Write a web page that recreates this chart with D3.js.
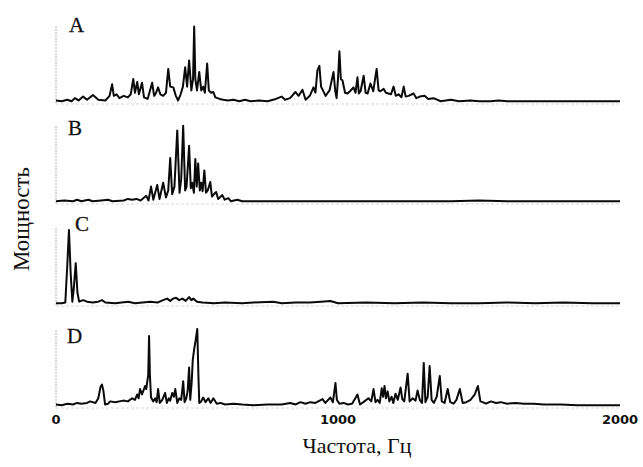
<!DOCTYPE html>
<html>
<head>
<meta charset="utf-8">
<script src="https://cdn.jsdelivr.net/npm/d3@7"></script>
<style>
  html, body { margin: 0; padding: 0; background: #fff; }
  svg { display: block; }
</style>
</head>
<body>
<div id="chart"></div>
<script>
// spectra: [frequency Hz, relative power 0..100]
var spectrumA = [[0,2],[20,1],[40,3],[55,1],[67,5],[80,2],[96,7],[110,3],[131,9],[150,3],[175,2],[190,8],[199,23],[205,8],[215,10],[225,5],[240,8],[255,6],[265,10],[274,30],[280,12],[288,26],[294,10],[305,25],[312,6],[325,4],[341,25],[348,8],[355,12],[362,19],[370,10],[380,8],[390,12],[398,43],[405,20],[416,19],[425,8],[433,2],[442,10],[450,20],[458,45],[465,20],[472,54],[480,15],[486,30],[490,98],[494,30],[500,15],[508,39],[515,15],[522,20],[528,12],[536,50],[542,15],[550,12],[558,13],[565,6],[580,4],[593,3],[610,2],[630,3],[650,1],[670,3],[690,1],[720,2],[750,1],[780,4],[800,7],[812,3],[830,5],[849,13],[860,8],[874,16],[885,3],[900,8],[913,19],[920,12],[927,41],[934,47],[940,20],[956,8],[970,15],[984,39],[990,15],[995,5],[1000,30],[1005,66],[1010,30],[1016,28],[1025,12],[1034,11],[1045,15],[1055,19],[1062,12],[1069,32],[1074,11],[1080,14],[1091,34],[1098,12],[1105,11],[1115,24],[1125,14],[1137,43],[1144,15],[1150,14],[1162,17],[1170,12],[1179,11],[1188,10],[1197,20],[1205,8],[1215,10],[1225,6],[1233,20],[1240,7],[1250,8],[1268,11],[1278,5],[1290,7],[1307,8],[1320,4],[1339,5],[1364,1],[1400,3],[1430,1],[1470,2],[1500,1],[1540,1],[1570,2],[1600,1],[1650,1],[1700,1],[1750,1],[1800,1],[1850,1],[1900,1],[1950,1],[2000,1]];

var spectrumB = [[0,1],[30,2],[60,1],[75,3],[90,1],[115,3],[130,1],[160,2],[185,3],[200,1],[240,2],[255,4],[270,3],[285,4],[300,2],[320,8],[328,2],[337,20],[345,3],[359,22],[367,4],[380,25],[390,6],[398,15],[405,57],[412,10],[420,20],[430,93],[438,12],[444,30],[451,99],[458,15],[463,20],[472,73],[478,18],[483,25],[489,12],[494,56],[499,20],[504,50],[510,15],[515,25],[520,14],[526,41],[532,12],[538,15],[547,26],[553,7],[560,10],[568,13],[575,4],[590,9],[598,3],[611,5],[620,1],[643,3],[660,1],[700,1],[800,1],[900,1],[1000,1],[1100,1],[1200,1],[1300,1],[1400,1],[1500,2],[1600,1],[1700,1],[1800,1],[1900,1],[2000,1]];

var spectrumC = [[0,1],[20,1],[33,2],[40,50],[46,96],[52,40],[58,3],[63,20],[70,53],[76,15],[82,3],[96,5],[110,3],[130,2],[150,3],[163,5],[175,2],[210,1],[256,3],[280,1],[334,3],[360,2],[380,5],[394,7],[405,4],[415,7],[426,8],[437,5],[448,7],[460,4],[472,9],[480,5],[487,7],[500,3],[520,2],[560,1],[600,2],[660,1],[700,2],[771,3],[800,1],[850,2],[900,2],[940,3],[973,4],[1000,1],[1100,2],[1200,1],[1300,2],[1400,1],[1500,1],[1600,2],[1700,1],[1800,2],[1900,1],[2000,1]];

var spectrumD = [[0,2],[20,1],[40,3],[60,2],[75,4],[90,3],[110,4],[121,6],[140,4],[150,10],[158,25],[163,28],[168,20],[174,2],[185,3],[192,6],[210,5],[238,7],[255,6],[270,10],[280,8],[288,15],[293,10],[298,22],[305,15],[316,26],[320,22],[323,30],[327,40],[330,91],[333,40],[337,11],[345,6],[352,10],[357,5],[362,22],[368,4],[377,8],[387,17],[393,4],[400,10],[405,7],[412,17],[418,12],[423,22],[430,4],[437,10],[444,8],[451,32],[456,5],[462,10],[467,20],[472,50],[476,8],[481,30],[485,60],[490,74],[495,85],[501,100],[505,40],[508,4],[515,6],[522,11],[530,5],[540,10],[548,4],[558,10],[570,3],[583,4],[600,2],[630,3],[660,2],[700,1],[750,2],[800,2],[830,4],[850,2],[867,5],[885,3],[902,5],[920,4],[945,9],[955,4],[973,11],[982,5],[991,30],[996,8],[1005,3],[1020,4],[1035,2],[1050,3],[1069,15],[1078,2],[1090,5],[1108,10],[1118,6],[1126,22],[1133,5],[1140,8],[1148,4],[1155,23],[1160,12],[1165,26],[1170,10],[1176,19],[1182,6],[1190,12],[1196,4],[1204,16],[1212,8],[1222,24],[1228,9],[1235,6],[1247,42],[1254,6],[1265,10],[1275,7],[1282,20],[1290,8],[1298,4],[1304,56],[1310,5],[1318,12],[1325,52],[1332,8],[1340,4],[1350,12],[1361,39],[1368,6],[1378,4],[1389,22],[1398,5],[1410,3],[1420,8],[1432,22],[1442,4],[1455,5],[1470,8],[1485,15],[1496,26],[1505,6],[1513,5],[1525,3],[1542,6],[1560,4],[1577,5],[1600,3],[1630,4],[1660,3],[1694,3],[1730,2],[1790,2],[1850,1],[1932,1],[2000,1]];

var panelLabels = ['A', 'B', 'C', 'D'];
var freqTicks = [0, 1000, 2000];
var xTitle = 'Частота, Гц';
var yTitle = 'Мощность';

var width = 643, height = 467;
var spectra = [spectrumA, spectrumB, spectrumC, spectrumD];

// panel baselines and the letter offsets (C sits right of its big peak)
var baselines = [102, 202, 304, 406];
var panelH = 77;
var letterDx = [69, 68, 75, 67];
var letterDy = [32, 135, 231, 343];

var svg = d3.select('#chart').append('svg')
  .attr('width', width)
  .attr('height', height);

var x = d3.scaleLinear().domain([0, 2000]).range([56, 620]);

spectra.forEach(function(data, i) {
  var y = d3.scaleLinear().domain([0, 100]).range([baselines[i], baselines[i] - panelH]);
  var g = svg.append('g');

  // faint printed axis lines
  g.append('line')
    .attr('x1', x(0)).attr('x2', x(0))
    .attr('y1', y(0) + 1).attr('y2', y(100))
    .style('stroke', '#b0b0b0')
    .style('stroke-width', 1)
    .style('stroke-dasharray', '2,1');
  g.append('line')
    .attr('x1', x(0)).attr('x2', x(2000))
    .attr('y1', y(0) + 2).attr('y2', y(0) + 2)
    .style('stroke', '#d8d8d8')
    .style('stroke-width', 1)
    .style('stroke-dasharray', '3,2');

  var line = d3.line()
    .x(function(d) { return x(d[0]); })
    .y(function(d) { return y(d[1]); });

  g.append('path')
    .datum(data)
    .attr('d', line)
    .style('fill', 'none')
    .style('stroke', '#0a0a0a')
    .style('stroke-width', 2)
    .style('stroke-linejoin', 'round');

  g.append('text')
    .attr('x', letterDx[i])
    .attr('y', letterDy[i])
    .attr('font-family', '"Liberation Serif", serif')
    .attr('font-size', '21px')
    .attr('fill', '#111')
    .style('stroke', '#111')
    .style('stroke-width', 0.3)
    .text(panelLabels[i]);
});

// frequency tick labels under the last panel
svg.append('g').selectAll('text')
  .data(freqTicks)
  .enter().append('text')
  .attr('x', function(d) { return x(d); })
  .attr('y', 424)
  .attr('text-anchor', 'middle')
  .attr('font-family', '"DejaVu Sans", sans-serif')
  .attr('font-weight', 'bold')
  .attr('font-size', '13px')
  .attr('fill', '#111')
  .text(function(d) { return d; });

svg.append('text')
  .attr('x', 357)
  .attr('y', 453)
  .attr('text-anchor', 'middle')
  .attr('font-family', '"Liberation Serif", serif')
  .attr('font-size', '22px')
  .attr('fill', '#111')
  .text(xTitle);

svg.append('text')
  .attr('transform', 'translate(29,219) rotate(-90)')
  .attr('text-anchor', 'middle')
  .attr('font-family', '"Liberation Serif", serif')
  .attr('font-size', '23px')
  .attr('fill', '#111')
  .text(yTitle);
</script>
</body>
</html>
